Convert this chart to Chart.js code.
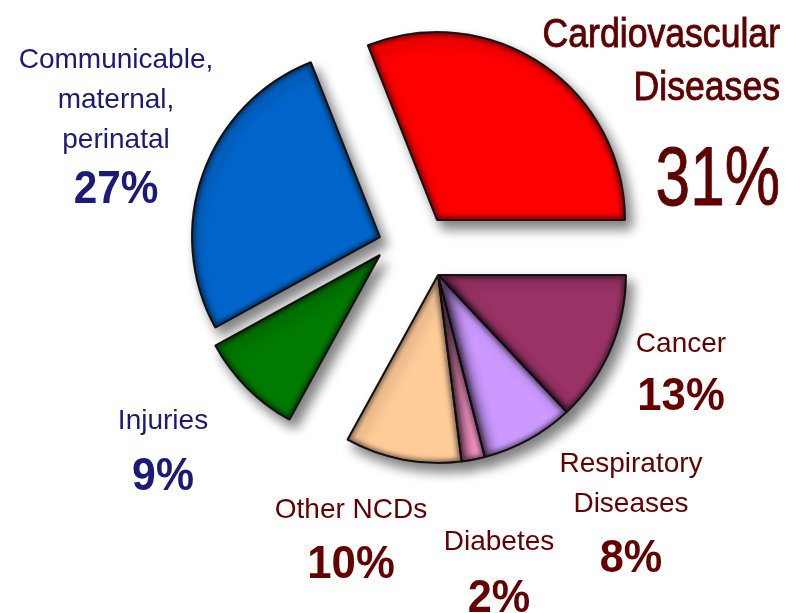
<!DOCTYPE html>
<html>
<head>
<meta charset="utf-8">
<script src="https://cdn.jsdelivr.net/npm/chart.js@4.4.1/dist/chart.umd.min.js"></script>
<style>
  body { margin: 0; background: #fff; }
  #wrap { width: 790px; height: 613px; position: relative; }
</style>
</head>
<body>
<div id="wrap"><canvas id="deathsPie"></canvas></div>
<script>
// share of deaths by cause (%)
const categories = ['Cardiovascular Diseases', 'Cancer', 'Respiratory Diseases', 'Diabetes', 'Other NCDs', 'Injuries', 'Communicable, maternal, perinatal'];
const shares = [31, 13, 8, 2, 10, 9, 27];
const labelLines = [
    ['Cardiovascular', 'Diseases'],
    ['Cancer'],
    ['Respiratory', 'Diseases'],
    ['Diabetes'],
    ['Other NCDs'],
    ['Injuries'],
    ['Communicable,', 'maternal,', 'perinatal']
];
const sliceColors = ['#ff0000', '#993366', '#cc99ff', '#ff99cc', '#ffcc99', '#007a00', '#0066cc'];

// how far each slice is pulled out of the pie (px)
const explode = [[17, -25], [18, 30], [18, 30], [18, 30], [18, 30], [-40, 10], [-40, -8]];

// where each label sits: x, first baseline, line gap, baseline of the percentage
const navy = '#1a1a7a';
const maroon = '#660000';
const labelStyle = [
    { x: 780, y: 47, gap: 53, py: 205, align: 'right', size: 40, sx: 0.89, psize: 84, pweight: 'normal', psx: 0.74, color: '#5e0000', heavy: 0.9 },
    { x: 681, y: 352, gap: 40, py: 410, align: 'center', size: 28, sx: 1, psize: 46, pweight: 'bold', psx: 0.95, color: maroon },
    { x: 631, y: 472, gap: 40, py: 572, align: 'center', size: 28, sx: 1, psize: 46, pweight: 'bold', psx: 0.94, color: maroon },
    { x: 499, y: 550, gap: 40, py: 612, align: 'center', size: 28, sx: 1, psize: 46, pweight: 'bold', psx: 0.94, color: maroon },
    { x: 351, y: 518, gap: 40, py: 578, align: 'center', size: 28, sx: 1, psize: 46, pweight: 'bold', psx: 0.95, color: maroon },
    { x: 163, y: 429, gap: 40, py: 490, align: 'center', size: 28, sx: 1, psize: 46, pweight: 'bold', psx: 0.93, color: navy },
    { x: 116, y: 68, gap: 40, py: 203, align: 'center', size: 28, sx: 1, psize: 46, pweight: 'bold', psx: 0.92, color: navy }
];

const FONT = "'Liberation Sans', Arial, sans-serif";

function squeezedText(ctx, text, x, y, sx, align, heavy) {
    ctx.save();
    ctx.translate(x, y);
    ctx.scale(sx, 1);
    ctx.textAlign = align;
    ctx.textBaseline = 'alphabetic';
    ctx.fillText(text, 0, 0);
    if (heavy) {
        ctx.lineWidth = heavy;
        ctx.strokeStyle = ctx.fillStyle;
        ctx.strokeText(text, 0, 0);
    }
    ctx.restore();
}

function arcPath(ctx, arc) {
    ctx.beginPath();
    ctx.moveTo(arc.x, arc.y);
    ctx.arc(arc.x, arc.y, arc.outerRadius, arc.startAngle, arc.endAngle);
    ctx.closePath();
}

const explodePlugin = {
    id: 'explode',
    afterDatasetsUpdate(chart) {
        chart.getDatasetMeta(0).data.forEach((arc, i) => {
            arc.x += explode[i][0];
            arc.y += explode[i][1];
        });
    },
    beforeDatasetsDraw(chart) {
        const ctx = chart.ctx;
        ctx.save();
        ctx.shadowColor = 'rgba(0,0,0,0.5)';
        ctx.shadowBlur = 12;
        ctx.shadowOffsetX = 6;
        ctx.shadowOffsetY = 8;
    },
    afterDatasetsDraw(chart) {
        const ctx = chart.ctx;
        ctx.restore();
        // bevel: dark soft rim inside every slice
        chart.getDatasetMeta(0).data.forEach((arc) => {
            ctx.save();
            arcPath(ctx, arc);
            ctx.clip();
            ctx.filter = 'blur(2px)';
            ctx.lineJoin = 'round';
            ctx.lineWidth = 7;
            ctx.strokeStyle = 'rgba(0,0,0,0.45)';
            arcPath(ctx, arc);
            ctx.stroke();
            ctx.filter = 'none';
            ctx.lineWidth = 1.5;
            ctx.strokeStyle = '#111';
            arcPath(ctx, arc);
            ctx.stroke();
            ctx.restore();
        });
    }
};

const labelPlugin = {
    id: 'sliceLabels',
    afterDraw(chart) {
        const ctx = chart.ctx;
        const values = chart.data.datasets[0].data;
        ctx.save();
        labelLines.forEach((lines, i) => {
            const s = labelStyle[i];
            ctx.fillStyle = s.color;
            ctx.font = s.size + 'px ' + FONT;
            lines.forEach((line, k) => {
                squeezedText(ctx, line, s.x, s.y + k * s.gap, s.sx, s.align, s.heavy);
            });
            ctx.font = s.pweight + ' ' + s.psize + 'px ' + FONT;
            squeezedText(ctx, values[i] + '%', s.x, s.py, s.psx, s.align, s.heavy);
        });
        ctx.restore();
    }
};

let pieCtx = document.getElementById('deathsPie').getContext('2d');
let deathsPie = new Chart(pieCtx, {
    type: 'pie',
    data: {
        labels: categories,
        datasets: [{
            data: shares,
            backgroundColor: sliceColors,
            borderColor: '#1a1a1a',
            borderWidth: 2
        }]
    },
    options: {
        responsive: true,
        maintainAspectRatio: false,
        animation: false,
        rotation: -21.6,
        layout: { padding: { left: 231, right: 181, top: 56, bottom: 179 } },
        plugins: {
            legend: { display: false },
            tooltip: { enabled: false }
        }
    },
    plugins: [explodePlugin, labelPlugin]
});
</script>
</body>
</html>
